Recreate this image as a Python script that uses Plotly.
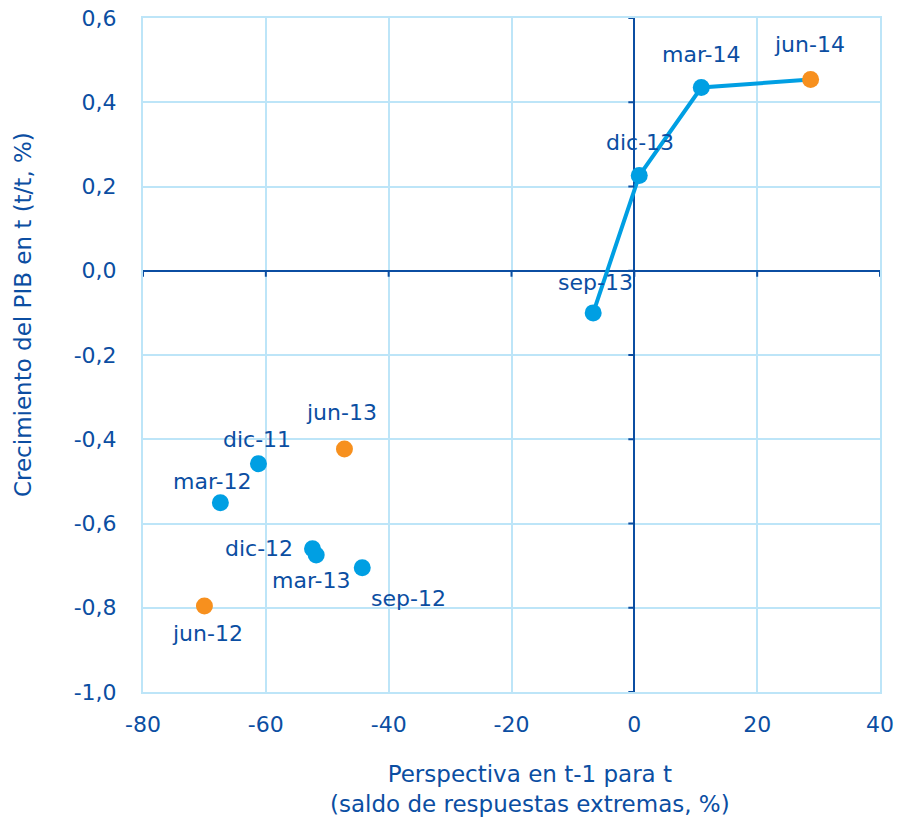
import plotly.graph_objects as go

# Data
labels = ["dic-11", "mar-12", "jun-12", "sep-12", "dic-12", "mar-13", "jun-13",
          "sep-13", "dic-13", "mar-14", "jun-14"]
perspectiva = [-61.2, -67.4, -70.0, -44.3, -52.4, -51.8, -47.2, -6.7, 0.8, 10.9, 28.7]
crecimiento = [-0.458, -0.551, -0.796, -0.705, -0.660, -0.675, -0.423, -0.100, 0.226, 0.435, 0.454]
is_june = [False, False, True, False, False, False, True, False, False, False, True]
line_labels = ["sep-13", "dic-13", "mar-14", "jun-14"]

x_ticks = [-80, -60, -40, -20, 0, 20, 40]
y_ticks = [-1.0, -0.8, -0.6, -0.4, -0.2, 0.0, 0.2, 0.4, 0.6]
y_ticklabels = [f"{v:.1f}".replace(".", ",") for v in y_ticks]
x_title = "Perspectiva en t-1 para t<br>(saldo de respuestas extremas, %)"
y_title = "Crecimiento del PIB en t (t/t, %)"

# Styles
TEXT = "#0B4EA2"
BLUE = "#009FE3"
ORANGE = "#F7901E"
GRID = "#BDE5F8"
FONT = "DejaVu Sans"
label_shift = {
    "dic-11": (-1, 24), "mar-12": (-8, 21), "jun-12": (3, -27), "sep-12": (46, -31),
    "dic-12": (-54, 0), "mar-13": (-5, -25), "jun-13": (-3, 36), "sep-13": (2, 30),
    "dic-13": (1, 33), "mar-14": (0, 33), "jun-14": (-1, 35),
}

fig = go.Figure()

idx_line = [labels.index(l) for l in line_labels]
fig.add_trace(go.Scatter(
    x=[perspectiva[i] for i in idx_line], y=[crecimiento[i] for i in idx_line],
    mode="lines", line=dict(color=BLUE, width=4), hoverinfo="skip", showlegend=False))

fig.add_trace(go.Scatter(
    x=[p for p, j in zip(perspectiva, is_june) if not j],
    y=[c for c, j in zip(crecimiento, is_june) if not j],
    mode="markers", marker=dict(color=BLUE, size=17), showlegend=False))
fig.add_trace(go.Scatter(
    x=[p for p, j in zip(perspectiva, is_june) if j],
    y=[c for c, j in zip(crecimiento, is_june) if j],
    mode="markers", marker=dict(color=ORANGE, size=17), showlegend=False))

for lab, xv, yv in zip(labels, perspectiva, crecimiento):
    dx, dy = label_shift[lab]
    fig.add_annotation(x=xv, y=yv, text=lab, showarrow=False, xshift=dx, yshift=dy,
                       font=dict(family=FONT, size=22, color=TEXT))

# axis titles
fig.add_annotation(xref="paper", yref="paper", x=0.5251, y=-0.1439, text=x_title,
                   showarrow=False, xanchor="center", yanchor="middle",
                   font=dict(family=FONT, size=23, color=TEXT))
fig.add_annotation(xref="paper", yref="paper", x=-0.1628, y=0.5593, text=y_title,
                   showarrow=False, textangle=-90, xanchor="center", yanchor="middle",
                   font=dict(family=FONT, size=23, color=TEXT))

# small tick marks on the zero axes
for xv in x_ticks:
    fig.add_shape(type="line", xref="x", yref="y", x0=xv, x1=xv, y0=0, y1=0,
                  ysizemode="pixel", yanchor=0, line=dict(color=TEXT, width=2), layer="above")
    fig.layout.shapes[-1].update(y0=-6, y1=0)
for yv in y_ticks:
    fig.add_shape(type="line", xref="x", yref="y", x0=0, x1=0, y0=yv, y1=yv,
                  xsizemode="pixel", xanchor=0, line=dict(color=TEXT, width=2), layer="above")
    fig.layout.shapes[-1].update(x0=-6, x1=0)

fig.update_layout(
    width=899, height=818,
    margin=dict(l=143, r=19, t=18, b=126, autoexpand=False),
    paper_bgcolor="white", plot_bgcolor="white",
    font=dict(family=FONT, color=TEXT, size=22),
    xaxis=dict(range=[-80, 40], tickvals=x_ticks, ticktext=[str(v) for v in x_ticks],
               showgrid=True, gridcolor=GRID, gridwidth=2,
               zeroline=True, zerolinecolor=TEXT, zerolinewidth=2,
               showline=True, linecolor=GRID, linewidth=2, mirror=True,
               tickfont=dict(size=22), ticks="outside", ticklen=12, tickcolor="rgba(0,0,0,0)",
               automargin=False, ticklabeloverflow="allow"),
    yaxis=dict(range=[-1.0, 0.6], tickvals=y_ticks, ticktext=y_ticklabels,
               showgrid=True, gridcolor=GRID, gridwidth=2,
               zeroline=True, zerolinecolor=TEXT, zerolinewidth=2,
               showline=True, linecolor=GRID, linewidth=2, mirror=True,
               tickfont=dict(size=22), ticks="outside", ticklen=20, tickcolor="rgba(0,0,0,0)",
               automargin=False, ticklabeloverflow="allow"),
)

fig.write_html("out.html", config={"displayModeBar": False},
               post_script="document.body.style.margin='0';")
